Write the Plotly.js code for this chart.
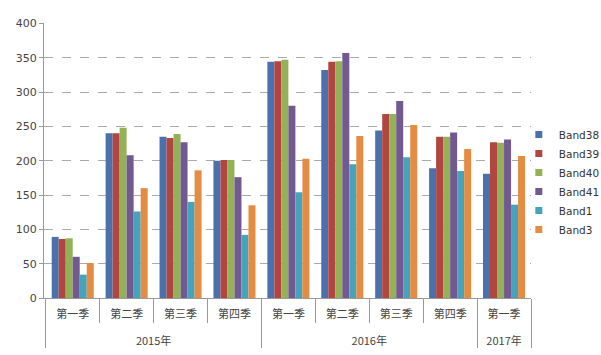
<!DOCTYPE html>
<html>
<head>
<meta charset="utf-8">
<script src="https://cdn.plot.ly/plotly-3.0.1.min.js"></script>
<style>html,body{margin:0;padding:0;background:#fff;}#chart{width:601px;height:355px;}</style>
</head>
<body>
<div id="chart"></div>
<script>
var years = ["2015年","2015年","2015年","2015年","2016年","2016年","2016年","2016年","2017年"];
var quarters = ["第一季","第二季","第三季","第四季","第一季","第二季","第三季","第四季","第一季"];
var seriesNames = ["Band38","Band39","Band40","Band41","Band1","Band3"];
var band38 = [89, 240, 235, 200, 344, 332, 244, 189, 181];
var band39 = [86, 240, 233, 201, 345, 344, 268, 235, 227];
var band40 = [87, 248, 239, 201, 347, 345, 268, 235, 226];
var band41 = [60, 208, 227, 176, 280, 357, 287, 241, 231];
var band1  = [34, 126, 140, 92, 154, 195, 205, 185, 136];
var band3  = [51, 160, 186, 135, 203, 236, 252, 217, 207];
var yTicks = [0, 50, 100, 150, 200, 250, 300, 350, 400];

var seriesValues = [band38, band39, band40, band41, band1, band3];
var colors = ["#4A71AB","#B0463F","#93B157","#72598F","#46A3BC","#E48C42"];

// the year row sits one line lower than Plotly's default position
var yearLabels = years.map(function(y){ return "<br>" + y; });

var traces = [];
seriesNames.forEach(function(n, i){
  traces.push({
    type: "bar",
    name: n,
    x: [yearLabels, quarters],
    y: seriesValues[i],
    marker: {color: colors[i], line: {width: 0}},
    showlegend: false
  });
});
// legend entries with small square swatches
seriesNames.forEach(function(n, i){
  traces.push({
    type: "scatter",
    mode: "markers",
    name: n,
    x: [[yearLabels[0]], [quarters[0]]],
    y: [null],
    marker: {color: colors[i], symbol: "square", size: 7},
    showlegend: true,
    hoverinfo: "skip"
  });
});

var layout = {
  width: 601, height: 355,
  margin: {l: 44, r: 70, t: 23, b: 57, autoexpand: false},
  paper_bgcolor: "#fff",
  plot_bgcolor: "#fff",
  barmode: "group",
  bargap: 0.22,
  bargroupgap: 0,
  font: {family: "Noto Sans CJK SC, DejaVu Sans, sans-serif", size: 11, color: "#444"},
  showlegend: true,
  legend: {
    x: 0.975, xanchor: "left", y: 0.647, yanchor: "top",
    font: {family: "DejaVu Sans, sans-serif", size: 10.5, color: "#333"},
    itemwidth: 30,
    tracegroupgap: 0,
    bgcolor: "rgba(0,0,0,0)"
  },
  xaxis: {
    type: "multicategory",
    showline: true, linecolor: "#999", linewidth: 1,
    ticks: "outside", tickson: "boundaries", ticklen: 24, tickcolor: "#999", tickwidth: 1,
    showdividers: true, dividercolor: "#999", dividerwidth: 1,
    ticklabelstandoff: 6,
    tickfont: {family: "Noto Sans CJK SC, sans-serif", size: 11, color: "#444"},
    showgrid: false, zeroline: false
  },
  yaxis: {
    range: [0, 400.6],
    tickvals: yTicks,
    ticktext: yTicks.map(String),
    showline: true, linecolor: "#999", linewidth: 1,
    ticks: "outside", ticklen: 4, tickcolor: "#999",
    showgrid: true, gridcolor: "#aaa", griddash: "dash", gridwidth: 1,
    zeroline: false,
    tickfont: {family: "DejaVu Sans, sans-serif", size: 11, color: "#444"}
  }
};

Plotly.newPlot("chart", traces, layout, {displayModeBar: false, staticPlot: true});
</script>
</body>
</html>
